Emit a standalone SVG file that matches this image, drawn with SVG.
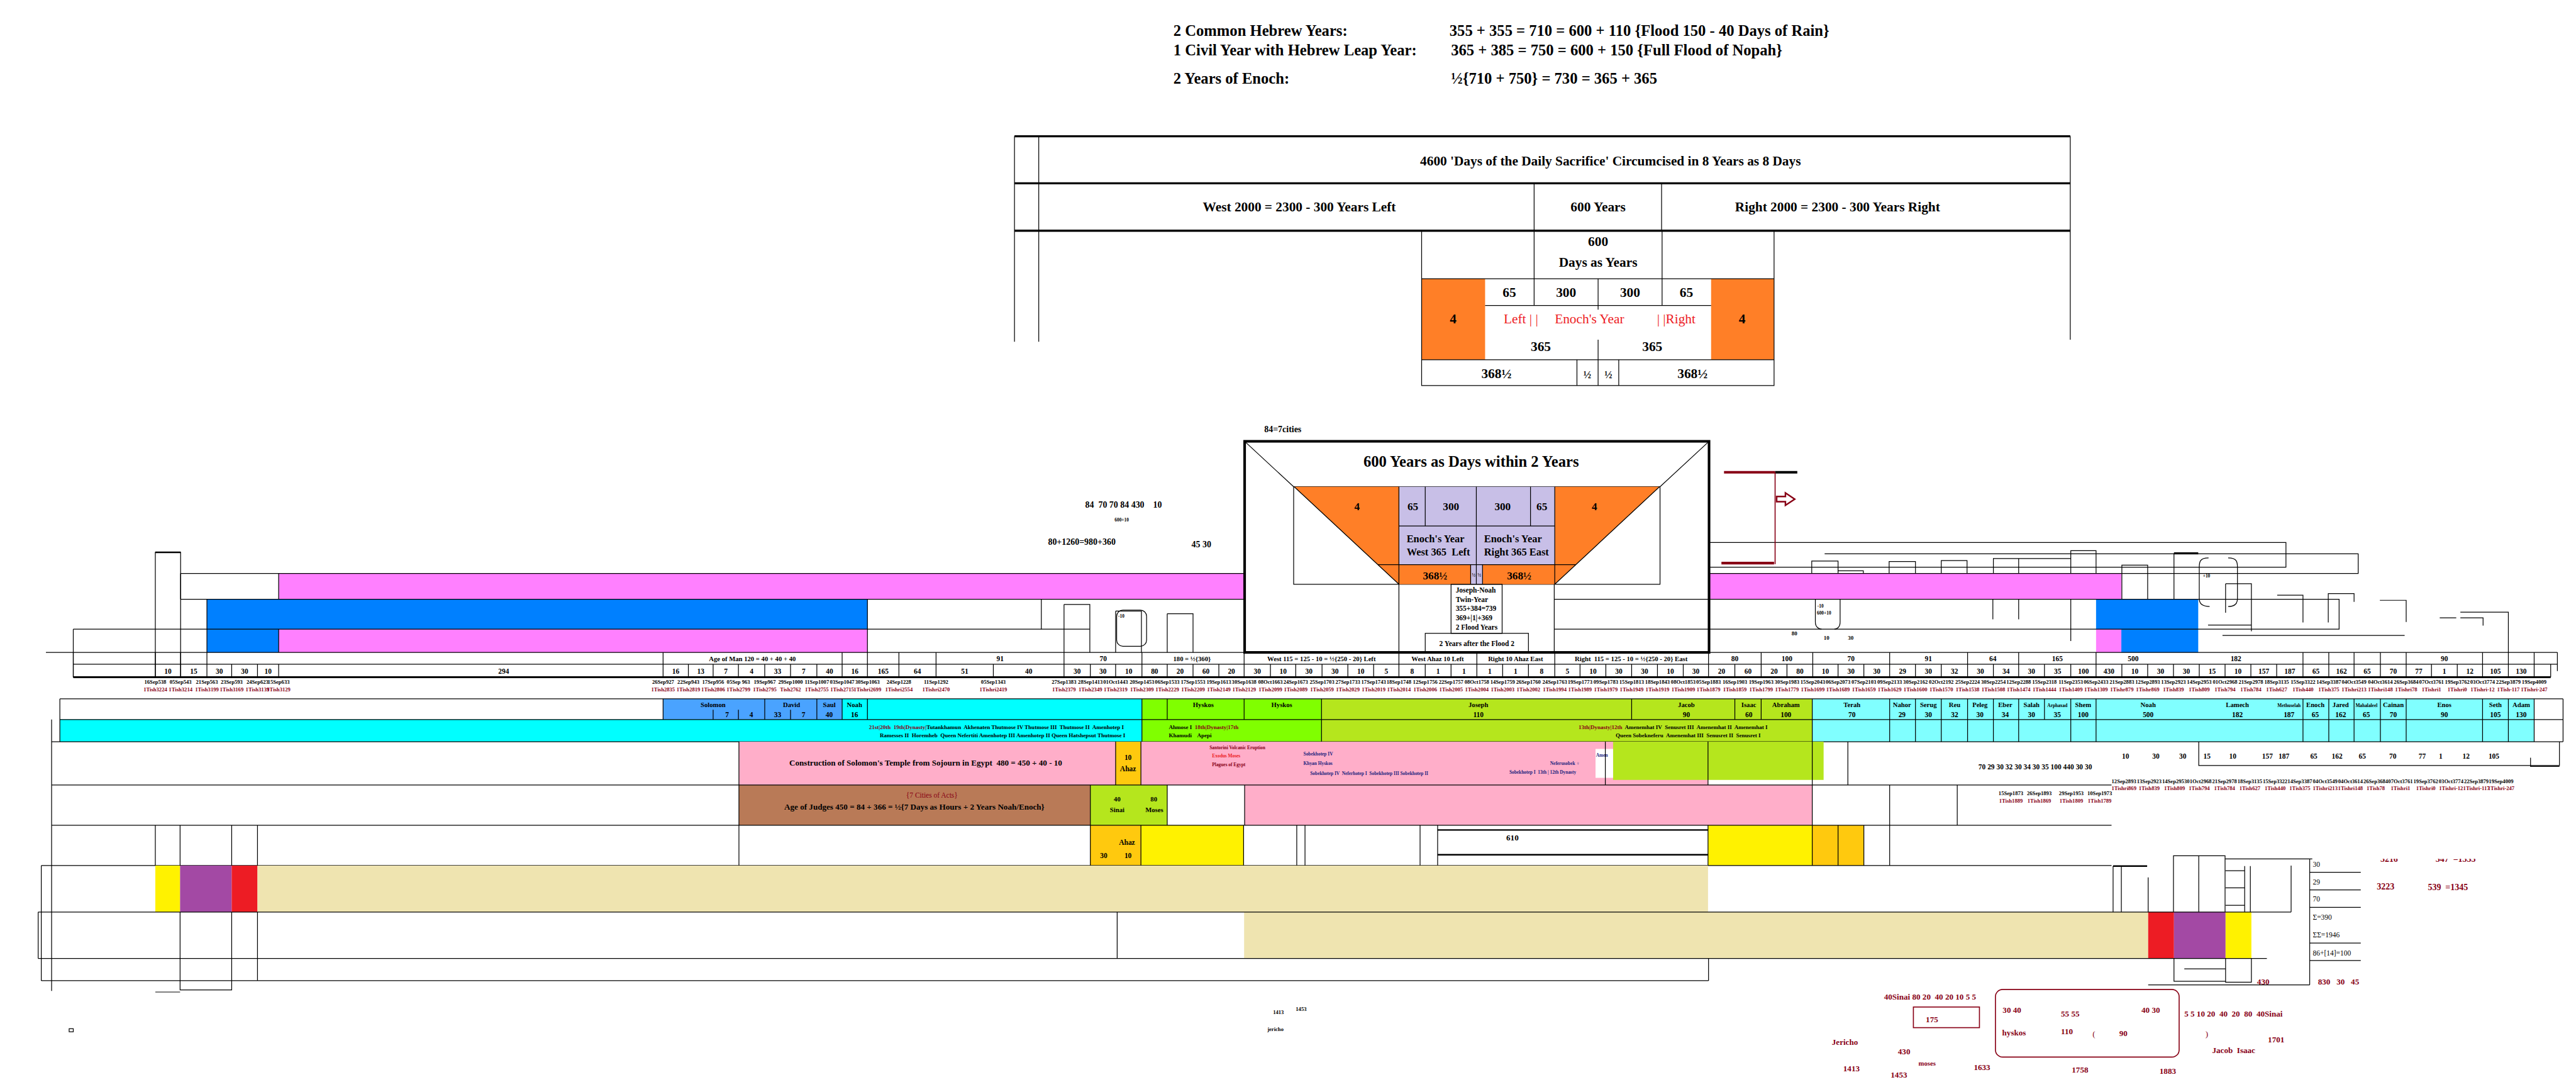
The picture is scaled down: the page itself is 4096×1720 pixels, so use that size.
<svg xmlns="http://www.w3.org/2000/svg" width="4096" height="1720" viewBox="0 0 4096 1720">
<style>
text{font-family:"Liberation Serif","Times New Roman",serif;font-weight:bold;fill:#000}
.m{text-anchor:middle}
.p{white-space:pre}
.n{font-weight:normal}
.dr{fill:#880015}
.rd{fill:#ed1c24}
.nv{fill:#1a237e}
.f30{font-size:30px}.f26{font-size:26px}.f21{font-size:21px}.f20{font-size:20px}.f17{font-size:17px}.f16{font-size:16px}.f14{font-size:14px}.f13{font-size:13px}.f11{font-size:11px}.f10{font-size:10.5px}.f9{font-size:9px}
.s{fill:none;stroke:#000;stroke-width:1.5}
.t{fill:none;stroke:#000;stroke-width:4}
.d{fill:none;stroke:#880015;stroke-width:2}
.or{fill:#ff7f27}.lv{fill:#c8bfe7}.pk{fill:#ff80ff}.bl{fill:#0080ff}.lb{fill:#4aa3ff}.cy{fill:#00ffff}.lc{fill:#80ffff}.gr{fill:#80ff00}.yg{fill:#b5e61d}.lp{fill:#ffaec9}.br{fill:#b97a57}.go{fill:#ffc90e}.ye{fill:#fff200}.tn{fill:#efe4b0}.re{fill:#ed1c24}.pu{fill:#a349a4}
</style>
<defs>
<clipPath id="clipTop"><rect x="4550" y="1664" width="300" height="20"/></clipPath>
</defs>
<rect width="4096" height="1720" fill="#fff"/>
<g transform="scale(0.8205)">

<g id="header">
<text class="f30" x="2274" y="69">2 Common Hebrew Years:</text>
<text class="f30" x="2809" y="69">355 + 355 = 710 = 600 + 110 {Flood 150 - 40 Days of Rain}</text>
<text class="f30" x="2274" y="107">1 Civil Year with Hebrew Leap Year:</text>
<text class="f30" x="2812" y="107">365 + 385 = 750 = 600 + 150 {Full Flood of Nopah}</text>
<text class="f30" x="2274" y="162">2 Years of Enoch:</text>
<text class="f30" x="2812" y="162">½{710 + 750} = 730 = 365 + 365</text>
</g>

<g id="table">
<path class="t" d="M1966 264H4012M1966 355H4012M1966 447H4012"/>
<path class="s" d="M1966 264V662M2013 264V662M4012 264V658M2973 355V447M3220 355V447"/>
<text class="f26 m" x="3121" y="320">4600 'Days of the Daily Sacrifice' Circumcised in 8 Years as 8 Days</text>
<text class="f26 m" x="2518" y="410">West 2000 = 2300 - 300 Years Left</text>
<text class="f26 m" x="3097" y="410">600 Years</text>
<text class="f26 m" x="3561" y="410">Right 2000 = 2300 - 300 Years Right</text>
<rect class="or" x="2755" y="540" width="123" height="157"/>
<rect class="or" x="3316" y="540" width="122" height="157"/>
<path class="s" d="M2755 447V747H3438V447M2973 447V540M3221 447V540M2755 540H3438M2878 592H3316M2973 540V592M3097 540V600M3221 540V592M3097 658V697M2755 697H3438M3056 697V747M3097 697V747M3137 697V747"/>
<text class="f26 m" x="3097" y="477">600</text>
<text class="f26 m" x="3097" y="517">Days as Years</text>
<text class="f26 m" x="2925" y="575">65</text>
<text class="f26 m" x="3035" y="575">300</text>
<text class="f26 m" x="3159" y="575">300</text>
<text class="f26 m" x="3268" y="575">65</text>
<text class="f26 m" x="2816" y="627">4</text>
<text class="f26 m" x="3376" y="627">4</text>
<text class="f26 rd n" x="2914" y="626">Left | |</text>
<text class="f26 rd n" x="3013" y="626">Enoch's Year</text>
<text class="f26 rd n" x="3211" y="626">| |Right</text>
<text class="f26 m" x="2986" y="680">365</text>
<text class="f26 m" x="3202" y="680">365</text>
<text class="f26 m" x="2900" y="733">368½</text>
<text class="f20 m" x="3076" y="733">½</text>
<text class="f20 m" x="3117" y="733">½</text>
<text class="f26 m" x="3280" y="733">368½</text>
</g>

<g id="bands">
<rect class="pk" x="540" y="1111" width="1872" height="50"/>
<rect class="pk" x="3312" y="1111" width="799" height="50"/>
<rect class="bl" x="401" y="1161" width="1280" height="58"/>
<rect class="bl" x="4062" y="1161" width="198" height="58"/>
<rect class="bl" x="401" y="1219" width="139" height="45"/>
<rect class="pk" x="540" y="1219" width="1141" height="45"/>
<rect class="pk" x="4062" y="1219" width="49" height="45"/>
<rect class="bl" x="4111" y="1219" width="149" height="45"/>
<path class="s" d="M350 1111H2412M350 1161H2412M142 1219H2112M89 1264H4956M350 1111V1161M540 1111V1161M401 1161V1264M540 1219V1264M1681 1161V1264M142 1219V1312"/>
<rect class="s" x="301" y="1070" width="49" height="242"/>
<path class="s" d="M301 1070H350" style="stroke-width:3"/>
<path class="s" d="M2018 1161V1219M2062 1171H2112V1264M2062 1171V1264M2162 1184H2212V1264M2162 1184V1264M2262 1189H2312V1264M2262 1189V1264"/>
<rect class="s" x="2164" y="1182" width="58" height="70" rx="12"/>
<text class="f9" x="2167" y="1197">-10</text>
<text class="f17 p" x="2103" y="983">84  70 70 84 430    10</text>
<text class="f9" x="2160" y="1010">600+10</text>
<text class="f17" x="2031" y="1055">80+1260=980+360</text>
<text class="f17" x="2309" y="1060">45 30</text>
<path class="s" d="M3312 1051H4430V1099H3312M3536 1073H4570V1111H3312M3312 1161H4533V1219H3312"/>
<path class="s" d="M3511 1111V1087H3562V1111M3562 1106H3611V1111M3661 1111V1088H3712V1111M3762 1111V1086H3812V1111M3863 1111V1082H4013V1111M3912 1082V1111M4013 1111V1067H4062V1111M4112 1161V1095H4162V1161M4213 1072V1161M4013 1161V1242M3862 1161V1200M3912 1161V1200M4313 1131H4363V1223M4313 1131V1187M4279 1211H4363M4307 1231H4660M4413 1153H4463V1206M4512 1206V1150H4562V1166M4612 1163H4663V1205M4768 1186H4861V1264M4728 1197H4760M4768 1197H4812V1212"/>
<path class="t" d="M4213 1072H4260"/>
<path class="s" d="M4280 1081C4262 1081 4262 1090 4262 1100V1160C4262 1170 4268 1175 4282 1175M4318 1081C4336 1081 4336 1090 4336 1100V1160C4336 1170 4330 1175 4318 1175"/>
<path class="s" d="M3518 1161V1205C3518 1215 3525 1219 3530 1219M3566 1161V1205C3566 1215 3560 1219 3555 1219"/>
<text class="f9" x="4269" y="1119">+10</text>
<text class="f9" x="3522" y="1177">-10</text>
<text class="f9" x="3521" y="1191">600+10</text>
<text class="f11" x="3472" y="1231">80</text>
<text class="f11" x="3534" y="1240">10</text>
<text class="f11" x="3581" y="1240">30</text>
<path d="M3341 915H3440" stroke="#880015" stroke-width="5"/>
<path d="M3440 915H3483" stroke="#000" stroke-width="5"/>
<path d="M3440 915V1093" stroke="#880015" stroke-width="2"/>
<path d="M3336 1091H3438" stroke="#880015" stroke-width="5"/>
<polygon points="3443,962 3460,962 3460,955 3478,967 3460,979 3460,972 3443,972" fill="#fff" stroke="#880015" stroke-width="3"/>
</g>

<g id="centerbox">
<text class="f17" x="2450" y="837">84=7cities</text>
<rect x="2412" y="855" width="900" height="409" fill="#fff" stroke="#000" stroke-width="5"/>
<path class="s" d="M2414 857L2507 943M3310 857L3217 943"/>
<text class="f30 m" x="2851" y="904">600 Years as Days within 2 Years</text>
<rect class="s" x="2507" y="943" width="710" height="189"/>
<polygon class="or" points="2508,943 2711,943 2711,1094 2850,1094 2850,1132 2711,1132"/>
<polygon class="or" points="3013,943 3216,943 3013,1132 2873,1132 2873,1094 3013,1094"/>
<rect class="lv" x="2711" y="943" width="302" height="151"/>
<rect class="lv" x="2850" y="1094" width="23" height="38"/>
<path class="s" d="M2508 943L2711 1132M3216 943L3013 1132M2711 943V1132M3013 943V1132M2711 1019H3013M2762 943V1019M2861 943V1132M2966 943V1019M2670 1094H3054M2850 1094V1132M2873 1094V1132M2711 1132V1264M3012 1132V1264M3012 1161H3312M3012 1219H3312"/>
<text class="f21 m" x="2630" y="989">4</text>
<text class="f21 m" x="2738" y="989">65</text>
<text class="f21 m" x="2812" y="989">300</text>
<text class="f21 m" x="2912" y="989">300</text>
<text class="f21 m" x="2988" y="989">65</text>
<text class="f21 m" x="3090" y="989">4</text>
<text class="f20" x="2726" y="1051">Enoch's Year</text>
<text class="f20 p" x="2726" y="1076">West 365  Left</text>
<text class="f20" x="2876" y="1051">Enoch's Year</text>
<text class="f20" x="2876" y="1076">Right 365 East</text>
<text class="f21 m" x="2781" y="1122">368½</text>
<text class="f21 m" x="2944" y="1122">368½</text>
<text class="f9 m" x="2856" y="1118">½</text>
<text class="f9 m" x="2867" y="1118">½</text>
<rect class="s" x="2812" y="1132" width="99" height="95"/>
<text class="f14" x="2821" y="1148">Joseph-Noah</text>
<text class="f14" x="2821" y="1166">Twin-Year</text>
<text class="f14" x="2821" y="1184">355+384=739</text>
<text class="f14" x="2821" y="1202">369+|1|+369</text>
<text class="f14" x="2821" y="1220">2 Flood Years</text>
<rect class="s" x="2762" y="1227" width="200" height="37"/>
<text class="f14 m" x="2862" y="1252">2 Years after the Flood 2</text>
<path class="t" d="M2412 1264H3312"/>
</g>

<g id="scale-rows">
<path class="s" d="M142 1287H4956M142 1264V1312M301 1264V1287M350 1264V1287M401 1264V1287M1285 1264V1287M1632 1264V1287M1681 1264V1287M1742 1264V1287M1814 1264V1287M2062 1264V1287M2213 1264V1287M2411 1264V1287M2711 1264V1287M2862 1264V1287M3013 1264V1287M3311 1264V1287M3413 1264V1287M3513 1264V1287M3662 1264V1287M3813 1264V1287M3912 1264V1287M4062 1264V1287M4463 1264V1287M4513 1264V1287M4562 1264V1287M4613 1264V1287M4663 1264V1287M4811 1264V1287M4861 1264V1287M4911 1264V1287M4956 1264V1300"/>
<path class="s" d="M301 1287V1312M350 1287V1312M401 1287V1312M449 1287V1312M499 1287V1312M540 1287V1312M1285 1287V1312M1334 1287V1312M1382 1287V1312M1431 1287V1312M1482 1287V1312M1532 1287V1312M1583 1287V1312M1632 1287V1312M1681 1287V1312M1742 1287V1312M1814 1287V1312M1925 1287V1312M2062 1287V1312M2113 1287V1312M2162 1287V1312M2213 1287V1312M2262 1287V1312M2312 1287V1312M2362 1287V1312M2411 1287V1312M2462 1287V1312M2511 1287V1312M2562 1287V1312M2612 1287V1312M2662 1287V1312M2711 1287V1312M2762 1287V1312M2812 1287V1312M2862 1287V1312M2912 1287V1312M2962 1287V1312M3013 1287V1312M3062 1287V1312M3112 1287V1312M3162 1287V1312M3212 1287V1312M3262 1287V1312M3311 1287V1312M3362 1287V1312M3413 1287V1312M3463 1287V1312M3513 1287V1312M3562 1287V1312M3612 1287V1312M3662 1287V1312M3712 1287V1312M3762 1287V1312M3813 1287V1312M3863 1287V1312M3912 1287V1312M3962 1287V1312M4013 1287V1312M4062 1287V1312M4112 1287V1312M4162 1287V1312M4212 1287V1312M4262 1287V1312M4312 1287V1312M4362 1287V1312M4412 1287V1312M4463 1287V1312M4513 1287V1312M4562 1287V1312M4613 1287V1312M4663 1287V1312M4712 1287V1312M4762 1287V1312M4811 1287V1312M4861 1287V1312M4911 1287V1312M4943 1287V1312"/>
<path d="M142 1312H4943" stroke="#000" stroke-width="3.5"/>
<text class="f13 m" x="1458" y="1281">Age of Man 120 = 40 + 40 + 40</text>
<text class="f14 m" x="1938" y="1281">91</text>
<text class="f14 m" x="2138" y="1281">70</text>
<text class="f13 m" x="2310" y="1281">180 = ½{360}</text>
<text class="f13 m" x="2561" y="1281">West 115 = 125 - 10 = ½{250 - 20} Left</text>
<text class="f13 m" x="2786" y="1281">West Ahaz 10 Left</text>
<text class="f13 m" x="2937" y="1281">Right 10 Ahaz East</text>
<text class="f13 m p" x="3161" y="1281">Right  115 = 125 - 10 = ½{250 - 20} East</text>
<text class="f14 m" x="3362" y="1281">80</text>
<text class="f14 m" x="3463" y="1281">100</text>
<text class="f14 m" x="3587" y="1281">70</text>
<text class="f14 m" x="3737" y="1281">91</text>
<text class="f14 m" x="3862" y="1281">64</text>
<text class="f14 m" x="3987" y="1281">165</text>
<text class="f14 m" x="4134" y="1281">500</text>
<text class="f14 m" x="4333" y="1281">182</text>
<text class="f14 m" x="4737" y="1281">90</text>
<text class="f14 m" y="1305"><tspan x="325.5">10</tspan><tspan x="375.5">15</tspan><tspan x="425">30</tspan><tspan x="474">30</tspan><tspan x="519.5">10</tspan><tspan x="976">294</tspan><tspan x="1309.5">16</tspan><tspan x="1358">13</tspan><tspan x="1406.5">7</tspan><tspan x="1456.5">4</tspan><tspan x="1507">33</tspan><tspan x="1557.5">7</tspan><tspan x="1607.5">40</tspan><tspan x="1656.5">16</tspan><tspan x="1711.5">165</tspan><tspan x="1778">64</tspan><tspan x="1869.5">51</tspan><tspan x="1993.5">40</tspan><tspan x="2087.5">30</tspan><tspan x="2137.5">30</tspan><tspan x="2187.5">10</tspan><tspan x="2237.5">80</tspan><tspan x="2287">20</tspan><tspan x="2337">60</tspan><tspan x="2386.5">20</tspan><tspan x="2436.5">30</tspan><tspan x="2486.5">10</tspan><tspan x="2536.5">30</tspan><tspan x="2587">30</tspan><tspan x="2637">10</tspan><tspan x="2686.5">5</tspan><tspan x="2736.5">8</tspan><tspan x="2787">1</tspan><tspan x="2837">1</tspan><tspan x="2887">1</tspan><tspan x="2937">1</tspan><tspan x="2987.5">8</tspan><tspan x="3037.5">5</tspan><tspan x="3087">10</tspan><tspan x="3137">30</tspan><tspan x="3187">30</tspan><tspan x="3237">10</tspan><tspan x="3286.5">30</tspan><tspan x="3336.5">20</tspan><tspan x="3387.5">60</tspan><tspan x="3438">20</tspan><tspan x="3488">80</tspan><tspan x="3537.5">10</tspan><tspan x="3587">30</tspan><tspan x="3637">30</tspan><tspan x="3687">29</tspan><tspan x="3737">30</tspan><tspan x="3787.5">32</tspan><tspan x="3838">30</tspan><tspan x="3887.5">34</tspan><tspan x="3937">30</tspan><tspan x="3987.5">35</tspan><tspan x="4037.5">100</tspan><tspan x="4087">430</tspan><tspan x="4137">10</tspan><tspan x="4187">30</tspan><tspan x="4237">30</tspan><tspan x="4287">15</tspan><tspan x="4337">10</tspan><tspan x="4387">157</tspan><tspan x="4437.5">187</tspan><tspan x="4488">65</tspan><tspan x="4537.5">162</tspan><tspan x="4587.5">65</tspan><tspan x="4638">70</tspan><tspan x="4687.5">77</tspan><tspan x="4737">1</tspan><tspan x="4786.5">12</tspan><tspan x="4836">105</tspan><tspan x="4886">130</tspan></text>
</g>

<g id="dates">
<text class="f10 m" y="1325"><tspan x="301">16Sep538</tspan><tspan x="350">05Sep543</tspan><tspan x="401">21Sep563</tspan><tspan x="449">23Sep593</tspan><tspan x="499">24Sep623</tspan><tspan x="540">15Sep633</tspan><tspan x="1285">26Sep927</tspan><tspan x="1334">22Sep943</tspan><tspan x="1382">17Sep956</tspan><tspan x="1431">05Sep 963</tspan><tspan x="1482">19Sep967</tspan><tspan x="1532">29Sep1000</tspan><tspan x="1583">11Sep1007</tspan><tspan x="1632">03Sep1047</tspan><tspan x="1681">30Sep1063</tspan><tspan x="1742">24Sep1228</tspan><tspan x="1814">11Sep1292</tspan><tspan x="1925">05Sep1343</tspan><tspan x="2062">27Sep1383</tspan><tspan x="2113">28Sep1413</tspan><tspan x="2162">01Oct1443</tspan><tspan x="2213">20Sep1453</tspan><tspan x="2262">06Sep1533</tspan><tspan x="2312">17Sep1553</tspan><tspan x="2362">19Sep1613</tspan><tspan x="2411">30Sep1638</tspan><tspan x="2462">08Oct1663</tspan><tspan x="2511">24Sep1673</tspan><tspan x="2562">25Sep1703</tspan><tspan x="2612">27Sep1733</tspan><tspan x="2662">17Sep1743</tspan><tspan x="2711">18Sep1748</tspan><tspan x="2762">12Sep1756</tspan><tspan x="2812">22Sep1757</tspan><tspan x="2862">08Oct1758</tspan><tspan x="2912">14Sep1759</tspan><tspan x="2962">26Sep1760</tspan><tspan x="3013">24Sep1763</tspan><tspan x="3062">19Sep1773</tspan><tspan x="3112">09Sep1783</tspan><tspan x="3162">15Sep1813</tspan><tspan x="3212">18Sep1843</tspan><tspan x="3262">08Oct1853</tspan><tspan x="3311">05Sep1883</tspan><tspan x="3362">16Sep1903</tspan><tspan x="3413">19Sep1963</tspan><tspan x="3463">30Sep1983</tspan><tspan x="3513">15Sep2043</tspan><tspan x="3562">06Sep2073</tspan><tspan x="3612">07Sep2103</tspan><tspan x="3662">09Sep2133</tspan><tspan x="3712">30Sep2162</tspan><tspan x="3762">02Oct2192</tspan><tspan x="3813">25Sep2224</tspan><tspan x="3863">30Sep2254</tspan><tspan x="3912">12Sep2288</tspan><tspan x="3962">15Sep2318</tspan><tspan x="4013">11Sep2353</tspan><tspan x="4062">06Sep2433</tspan><tspan x="4112">21Sep2883</tspan><tspan x="4162">12Sep2893</tspan><tspan x="4212">13Sep2923</tspan><tspan x="4262">14Sep2953</tspan><tspan x="4312">01Oct2968</tspan><tspan x="4362">21Sep2978</tspan><tspan x="4412">18Sep3135</tspan><tspan x="4463">15Sep3322</tspan><tspan x="4513">14Sep3387</tspan><tspan x="4562">04Oct3549</tspan><tspan x="4613">04Oct3614</tspan><tspan x="4663">26Sep3684</tspan><tspan x="4712">07Oct3761</tspan><tspan x="4762">19Sep3762</tspan><tspan x="4811">03Oct3774</tspan><tspan x="4861">22Sep3879</tspan><tspan x="4911">19Sep4009</tspan></text>
<text class="f10 m dr" y="1339"><tspan x="301">1Tish3224</tspan><tspan x="350">1Tish3214</tspan><tspan x="401">1Tish3199</tspan><tspan x="449">1Tish3169</tspan><tspan x="499">1Tish3139</tspan><tspan x="540">1Tish3129</tspan><tspan x="1285">1Tish2835</tspan><tspan x="1334">1Tish2819</tspan><tspan x="1382">1Tish2806</tspan><tspan x="1431">1Tish2799</tspan><tspan x="1482">1Tish2795</tspan><tspan x="1532">Tish2762</tspan><tspan x="1583">1Tish2755</tspan><tspan x="1632">1Tish2715</tspan><tspan x="1681">1Tishri2699</tspan><tspan x="1742">1Tishri2554</tspan><tspan x="1814">1Tishri2470</tspan><tspan x="1925">1Tishri2419</tspan><tspan x="2062">1Tish2379</tspan><tspan x="2113">1Tish2349</tspan><tspan x="2162">1Tish2319</tspan><tspan x="2213">1Tish2309</tspan><tspan x="2262">1Tish2229</tspan><tspan x="2312">1Tish2209</tspan><tspan x="2362">1Tish2149</tspan><tspan x="2411">1Tish2129</tspan><tspan x="2462">1Tish2099</tspan><tspan x="2511">1Tish2089</tspan><tspan x="2562">1Tish2059</tspan><tspan x="2612">1Tish2029</tspan><tspan x="2662">1Tish2019</tspan><tspan x="2711">1Tish2014</tspan><tspan x="2762">1Tish2006</tspan><tspan x="2812">1Tish2005</tspan><tspan x="2862">1Tish2004</tspan><tspan x="2912">1Tish2003</tspan><tspan x="2962">1Tish2002</tspan><tspan x="3013">1Tish1994</tspan><tspan x="3062">1Tish1989</tspan><tspan x="3112">1Tish1979</tspan><tspan x="3162">1Tish1949</tspan><tspan x="3212">1Tish1919</tspan><tspan x="3262">1Tish1909</tspan><tspan x="3311">1Tish1879</tspan><tspan x="3362">1Tish1859</tspan><tspan x="3413">1Tish1799</tspan><tspan x="3463">1Tish1779</tspan><tspan x="3513">1Tish1699</tspan><tspan x="3562">1Tish1689</tspan><tspan x="3612">1Tish1659</tspan><tspan x="3662">1Tish1629</tspan><tspan x="3712">1Tish1600</tspan><tspan x="3762">1Tish1570</tspan><tspan x="3813">1Tish1538</tspan><tspan x="3863">1Tish1508</tspan><tspan x="3912">1Tish1474</tspan><tspan x="3962">1Tish1444</tspan><tspan x="4013">1Tish1409</tspan><tspan x="4062">1Tish1309</tspan><tspan x="4112">1Tishr879</tspan><tspan x="4162">1Tishr869</tspan><tspan x="4212">1Tish839</tspan><tspan x="4262">1Tish809</tspan><tspan x="4312">1Tish794</tspan><tspan x="4362">1Tish784</tspan><tspan x="4412">1Tish627</tspan><tspan x="4463">1Tish440</tspan><tspan x="4513">1Tish375</tspan><tspan x="4562">1Tishri213</tspan><tspan x="4613">1Tishri148</tspan><tspan x="4663">1Tishri78</tspan><tspan x="4712">1Tishri1</tspan><tspan x="4762">1Tishri0</tspan><tspan x="4811">1Tishri-12</tspan><tspan x="4861">1Tish-117</tspan><tspan x="4911">1Tishri-247</tspan></text>
</g>

<g id="genealogy">
<rect class="lb" x="1285" y="1354" width="347" height="40"/>
<rect class="cy" x="1632" y="1354" width="581" height="40"/>
<rect class="cy" x="116" y="1394" width="2097" height="43"/>
<rect class="gr" x="2213" y="1354" width="348" height="83"/>
<rect class="yg" x="2561" y="1354" width="951" height="83"/>
<rect class="lc" x="3512" y="1354" width="1399" height="83"/>
<path class="s" d="M116 1354H4967M116 1394H4967M100 1437H4967M116 1354V1437M100 1394V1920M4967 1354V1437M4911 1354V1437M1285 1354V1394M1382 1375V1394M1431 1375V1394M1482 1354V1394M1532 1375V1394M1583 1354V1394M1632 1354V1394M1681 1354V1394M2213 1354V1437M2262 1354V1394M2411 1354V1394M2561 1354V1437M3162 1354V1394M3362 1354V1394M3413 1354V1394M3512 1354V1437M3662 1354V1437M3712 1354V1437M3762 1354V1437M3813 1354V1437M3863 1354V1437M3912 1354V1437M3962 1354V1394M4013 1354V1437M4062 1354V1437M4463 1354V1437M4513 1354V1437M4562 1354V1437M4613 1354V1437M4663 1354V1437M4811 1354V1437M4861 1354V1437"/>
<g class="f13">
<text class="m" x="1382" y="1370">Solomon</text>
<text class="m" x="1534" y="1370">David</text>
<text class="m" x="1607" y="1370">Saul</text>
<text class="m" x="1656" y="1370">Noah</text>
<text class="m" x="2332" y="1370">Hyskos</text>
<text class="m" x="2484" y="1370">Hyskos</text>
<text class="m" x="2865" y="1370">Joseph</text>
<text class="m" x="3268" y="1370">Jacob</text>
<text class="m" x="3389" y="1370">Isaac</text>
<text class="m" x="3461" y="1370">Abraham</text>
<text class="m" x="3589" y="1370">Terah</text>
<text class="m" x="3686" y="1370">Nahor</text>
<text class="m" x="3737" y="1370">Serug</text>
<text class="m" x="3788" y="1370">Reu</text>
<text class="m" x="3837" y="1370">Peleg</text>
<text class="m" x="3886" y="1370">Eber</text>
<text class="m" x="3937" y="1370">Salah</text>
<text class="m f9" x="3987" y="1370">Arphaxad</text>
<text class="m" x="4037" y="1370">Shem</text>
<text class="m" x="4163" y="1370">Noah</text>
<text class="m" x="4336" y="1370">Lamech</text>
<text class="m f9" x="4436" y="1370">Methuselah</text>
<text class="m" x="4487" y="1370">Enoch</text>
<text class="m" x="4536" y="1370">Jared</text>
<text class="m f9" x="4586" y="1370">Mahalaleel</text>
<text class="m" x="4638" y="1370">Cainan</text>
<text class="m" x="4737" y="1370">Enos</text>
<text class="m" x="4836" y="1370">Seth</text>
<text class="m" x="4886" y="1370">Adam</text>
</g>
<text class="f14 m" y="1389"><tspan x="1409">7</tspan><tspan x="1456">4</tspan><tspan x="1507">33</tspan><tspan x="1557">7</tspan><tspan x="1607">40</tspan><tspan x="1656">16</tspan><tspan x="2865">110</tspan><tspan x="3268">90</tspan><tspan x="3389">60</tspan><tspan x="3461">100</tspan><tspan x="3589">70</tspan><tspan x="3686">29</tspan><tspan x="3737">30</tspan><tspan x="3788">32</tspan><tspan x="3837">30</tspan><tspan x="3886">34</tspan><tspan x="3937">30</tspan><tspan x="3987">35</tspan><tspan x="4037">100</tspan><tspan x="4163">500</tspan><tspan x="4336">182</tspan><tspan x="4436">187</tspan><tspan x="4487">65</tspan><tspan x="4536">162</tspan><tspan x="4586">65</tspan><tspan x="4638">70</tspan><tspan x="4737">90</tspan><tspan x="4836">105</tspan><tspan x="4886">130</tspan></text>
<text class="f11 p" x="1684" y="1413"><tspan class="dr">21st|20th  19th|Dynasty|</tspan>Tutankhamun  Akhenaten Thutmose IV Thutmose III  Thutmose II  Amenhotep I</text>
<text class="f11 p" x="1705" y="1429">Ramesses II  Horemheb  Queen Nefertiti Amenhotep III Amenhotep II Queen Hatshepsut Thutmose I</text>
<text class="f11 p" x="2265" y="1413">Ahmose I  <tspan class="dr">18th|Dynasty|17th</tspan></text>
<text class="f11 p" x="2265" y="1429">Khamudi    Apepi</text>
<text class="f11 p" x="3059" y="1413"><tspan class="dr">13th|Dynasty|12th</tspan>  Amenemhat IV  Senusret III  Amenemhat II  Amenemhat I</text>
<text class="f11 p" x="3131" y="1429">Queen Sobekneferu  Amenemhat III  Senusret II  Senusret I</text>
</g>

<g id="ages">
<rect class="lp" x="1432" y="1437" width="1878" height="84"/>
<rect class="go" x="2162" y="1437" width="49" height="84"/>
<rect class="yg" x="3126" y="1437" width="408" height="74"/>
<rect x="3092" y="1451" width="34" height="56" fill="#fff"/>
<text class="f9 nv" x="3093" y="1466">Amen</text>
<rect class="br" x="1432" y="1521" width="681" height="78"/>
<rect class="yg" x="2113" y="1521" width="149" height="78"/>
<rect class="lp" x="2412" y="1521" width="1100" height="78"/>
<rect class="go" x="2113" y="1599" width="98" height="78"/>
<rect class="ye" x="2211" y="1599" width="199" height="78"/>
<rect class="ye" x="3310" y="1599" width="202" height="78"/>
<rect class="go" x="3512" y="1599" width="100" height="78"/>
<path class="s" d="M100 1521H4092M100 1599H4092M80 1677H4092M1432 1437V1767M2162 1437V1521M2211 1437V1521M3111 1437V1521M3310 1437V1521M3512 1437V1677M3581 1437V1521M2113 1521V1677M2262 1521V1599M2412 1521V1599M2211 1599V1677M2410 1599V1677M2513 1599V1677M2529 1599V1677M2752 1599V1677M2786 1599V1677M3310 1599V1677M3562 1599V1677M3612 1599V1677M3662 1521V1677M3793 1521V1599"/>
<path d="M2786 1608H3310M2786 1656H3310" stroke="#000" stroke-width="3"/>
<text class="f16 m" x="2931" y="1628">610</text>
<text class="f16 m p" x="1794" y="1483">Construction of Solomon's Temple from Sojourn in Egypt  480 = 450 + 40 - 10</text>
<text class="f14 m" x="2186" y="1472">10</text>
<text class="f14 m" x="2186" y="1494">Ahaz</text>
<text class="f9 dr" x="2344" y="1451">Santorini Volcanic Eruption</text>
<text class="f9 rd" x="2349" y="1467">Exodus Moses</text>
<text class="f9 dr" x="2349" y="1484">Plagues of Egypt</text>
<text class="f9 nv" x="2526" y="1464">Sobekhotep IV</text>
<text class="f9 nv" x="2526" y="1482">Khyan Hyskos</text>
<text class="f9 nv p" x="2539" y="1502">Sobekhotep IV  Neferhotep I  Sobekhotep III Sobekhotep II</text>
<text class="f9 nv" x="3004" y="1482">Neferusobek ♀</text>
<text class="f9 nv p" x="2925" y="1499">Sobekhotep I  13th | 12th Dynasty</text>
<text class="f14 m dr n" x="1806" y="1546">{7 Cities of Acts}</text>
<text class="f16 m" x="1772" y="1568">Age of Judges 450 = 84 + 366 = ½{7 Days as Hours + 2 Years Noah/Enoch}</text>
<text class="f13 m" x="2165" y="1553">40</text>
<text class="f13 m" x="2236" y="1553">80</text>
<text class="f13 m" x="2165" y="1574">Sinai</text>
<text class="f13 m" x="2237" y="1574">Moses</text>
<text class="f14 m" x="2184" y="1637">Ahaz</text>
<text class="f14 m" x="2139" y="1662">30</text>
<text class="f14 m" x="2186" y="1662">10</text>
<text class="f14 p" x="3834" y="1491">70 29 30 32 30 34 30 35 100 440 30 30</text>
<text class="f14 m" y="1470"><tspan x="4119">10</tspan><tspan x="4178">30</tspan><tspan x="4230">30</tspan><tspan x="4277">15</tspan><tspan x="4327">10</tspan><tspan x="4394">157</tspan><tspan x="4426">187</tspan><tspan x="4484">65</tspan><tspan x="4529">162</tspan><tspan x="4578">65</tspan><tspan x="4637">70</tspan><tspan x="4694">77</tspan><tspan x="4730">1</tspan><tspan x="4779">12</tspan><tspan x="4833">105</tspan></text>
<path class="s" d="M4261 1437V1483H4960V1437M4904 1468V1485H4960"/>
<text class="f10 m" y="1517"><tspan x="4116">12Sep2893</tspan><tspan x="4165">13Sep2923</tspan><tspan x="4214">14Sep2953</tspan><tspan x="4262">01Oct2968</tspan><tspan x="4311">21Sep2978</tspan><tspan x="4360">18Sep3135</tspan><tspan x="4409">15Sep3322</tspan><tspan x="4457">14Sep3387</tspan><tspan x="4506">04Oct3549</tspan><tspan x="4555">04Oct3614</tspan><tspan x="4604">26Sep3684</tspan><tspan x="4652">07Oct3761</tspan><tspan x="4701">19Sep3762</tspan><tspan x="4750">03Oct3774</tspan><tspan x="4799">22Sep3879</tspan><tspan x="4847">19Sep4009</tspan></text>
<text class="f10 m dr" y="1531"><tspan x="4116">1Tishri869</tspan><tspan x="4165">1Tish839</tspan><tspan x="4214">1Tish809</tspan><tspan x="4262">1Tish794</tspan><tspan x="4311">1Tish784</tspan><tspan x="4360">1Tish627</tspan><tspan x="4409">1Tish440</tspan><tspan x="4457">1Tish375</tspan><tspan x="4506">1Tishri213</tspan><tspan x="4555">1Tishri148</tspan><tspan x="4604">1Tish78</tspan><tspan x="4652">1Tishri1</tspan><tspan x="4701">1Tishri0</tspan><tspan x="4750">1Tishri-12</tspan><tspan x="4799">1Tishri-117</tspan><tspan x="4847">1Tishri-247</tspan></text>
<text class="f10 m" y="1541"><tspan x="3897">15Sep1873</tspan><tspan x="3952">26Sep1893</tspan><tspan x="4014">29Sep1953</tspan><tspan x="4069">10Sep1973</tspan></text>
<text class="f10 m dr" y="1555"><tspan x="3897">1Tish1889</tspan><tspan x="3952">1Tish1869</tspan><tspan x="4014">1Tish1809</tspan><tspan x="4069">1Tish1789</tspan></text>
</g>

<g id="lower">
<rect class="ye" x="301" y="1677" width="48" height="90"/>
<rect class="pu" x="349" y="1677" width="100" height="90"/>
<rect class="re" x="449" y="1677" width="50" height="90"/>
<rect class="tn" x="499" y="1677" width="2811" height="90"/>
<rect class="tn" x="2411" y="1767" width="1752" height="90"/>
<rect class="re" x="4163" y="1767" width="50" height="90"/>
<rect class="pu" x="4213" y="1767" width="100" height="90"/>
<rect class="ye" x="4313" y="1767" width="50" height="90"/>
<path class="s" d="M74 1767H4440M74 1857H4393M80 1900H3311M80 1677V1900M74 1767V1857M349 1767V1918H449V1767M301 1922H349M499 1767V1900M2165 1767V1857M3311 1857V1900M301 1599V1677M349 1599V1677M449 1599V1677M499 1599V1677"/>
<path class="s" d="M4095 1678V1767M4111 1678V1767M4163 1700V1767M4212 1767V1658H4312V1767M4261 1658V1767M4312 1664H4481M4350 1678V1767M4361 1678V1767M4313 1687H4350M4313 1720H4350M4313 1754H4350M4440 1677V1767M4476 1664V1908M4163 1908H4476M4476 1690H4575M4476 1724H4575M4476 1758H4575M4476 1827H4575M4476 1861H4575M4213 1857V1901H4313M4313 1857V1903H4363V1857M4233 1877H4313"/>
<path d="M4095 1678H4161" stroke="#000" stroke-width="3"/>
<text class="f14 n" x="4482" y="1679">30</text>
<text class="f14 n" x="4482" y="1713">29</text>
<text class="f14 n" x="4482" y="1747">70</text>
<text class="f14 n" x="4482" y="1782">Σ=390</text>
<text class="f14 n" x="4482" y="1816">ΣΣ=1946</text>
<text class="f14 n" x="4482" y="1851">86+[14]=100</text>
<g clip-path="url(#clipTop)"><text class="f17 dr p" x="4613" y="1670">3216</text><text class="f17 dr p" x="4720" y="1670">347  =1335</text></g>
<text class="f17 dr" x="4606" y="1723">3223</text>
<text class="f17 dr p" x="4705" y="1725">539  =1345</text>
<text class="f16 dr" x="4374" y="1907">430</text>
<text class="f16 dr p" x="4492" y="1907">830   30   45</text>
<text class="f16 dr p" x="3651" y="1937">40Sinai 80 20  40 20 10 5 5</text>
<rect class="d" x="3708" y="1951" width="128" height="40"/>
<text class="f16 dr" x="3732" y="1981">175</text>
<rect class="d" x="3867" y="1917" width="356" height="131" rx="14"/>
<text class="f16 dr p" x="3881" y="1962">30 40</text>
<text class="f16 dr p" x="3994" y="1969">55 55</text>
<text class="f16 dr p" x="4150" y="1962">40 30</text>
<text class="f16 dr" x="3880" y="2006">hyskos</text>
<text class="f16 dr" x="3994" y="2004">110</text>
<text class="f16 dr n" x="4055" y="2008">(</text>
<text class="f16 dr" x="4107" y="2007">90</text>
<text class="f16 dr n" x="4274" y="2008">)</text>
<text class="f16 dr p" x="4233" y="1969">5 5 10 20  40  20  80  40Sinai</text>
<text class="f16 dr" x="4395" y="2020">1701</text>
<text class="f16 dr p" x="4287" y="2040">Jacob  Isaac</text>
<text class="f16 dr" x="3550" y="2024">Jericho</text>
<text class="f16 dr" x="3678" y="2043">430</text>
<text class="f13 dr" x="3718" y="2064">moses</text>
<text class="f16 dr" x="3572" y="2075">1413</text>
<text class="f16 dr" x="3664" y="2088">1453</text>
<text class="f16 dr" x="3825" y="2073">1633</text>
<text class="f16 dr" x="4015" y="2078">1758</text>
<text class="f16 dr" x="4185" y="2080">1883</text>
<text class="f10" x="2467" y="1965">1413</text>
<text class="f10" x="2511" y="1959" fill="#1a237e">1453</text>
<text class="f10" x="2456" y="1997">jericho</text>
<rect class="s" x="134" y="1993" width="8" height="6"/>
</g>
</g>
</svg>
